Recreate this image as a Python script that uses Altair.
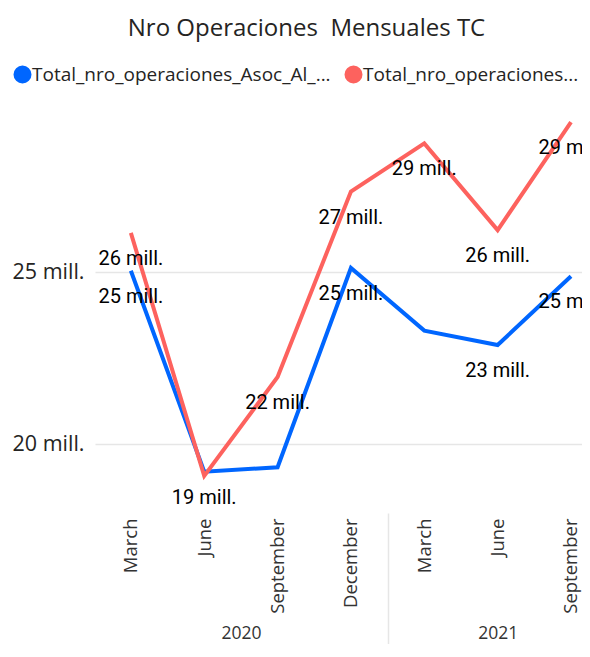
import json
import altair as alt
import pandas as pd

# ---------------- data ----------------
months = ["March", "June", "September", "December", "March", "June", "September"]
years = ["2020", "2020", "2020", "2020", "2021", "2021", "2021"]
series_names = ["Total_nro_operaciones_Asoc_Al_...", "Total_nro_operaciones..."]
blue_vals = [25.04, 19.20, 19.33, 25.12, 23.30, 22.88, 24.88]   # millions
red_vals = [26.14, 19.08, 21.95, 27.34, 28.74, 26.22, 29.36]    # millions
blue_show = [True, True, False, True, False, True, True]
red_show = [True, False, True, True, True, True, True]
colors = ["#0066FF", "#FD625E"]
title_text = "Nro Operaciones\u00a0 Mensuales TC"

rows = []
for name, vals, show in [(series_names[0], blue_vals, blue_show),
                         (series_names[1], red_vals, red_show)]:
    for i, (m, y, v, s) in enumerate(zip(months, years, vals, show)):
        rows.append({"idx": i, "month": m, "year": y, "series": name,
                     "value": v, "show": s, "label": f"{round(v)} mill."})
df = pd.DataFrame(rows)

# year groups: centre and boundaries derived from the month indices
year_list = list(dict.fromkeys(years))
year_centers = [sum(i for i, y in enumerate(years) if y == yr) /
                years.count(yr) for yr in year_list]
year_bounds = [min(i for i, y in enumerate(years) if y == yr) - 0.5 for yr in year_list]
year_df = pd.DataFrame({"year": year_list, "center": year_centers})

x_domain = [-0.489, 6.15]
FONT = "Open Sans"

month_expr = json.dumps(months) + "[datum.value]"
year_expr = " : ".join(
    f"datum.value == {c} ? '{y}'" for y, c in zip(year_list, year_centers)) + " : ''"
bound_test = "indexof(" + json.dumps(year_bounds) + ", datum.value) >= 0"

base = alt.Chart(df).encode(
    x=alt.X("idx:Q",
            scale=alt.Scale(domain=x_domain, nice=False, zero=False),
            axis=alt.Axis(values=list(range(len(months))), labelExpr=month_expr,
                          labelAngle=-90, labelFont=FONT, labelFontSize=18.5,
                          labelColor="#333333", labelPadding=5, ticks=False,
                          domain=False, grid=False, title=None)),
    y=alt.Y("value:Q",
            scale=alt.Scale(domain=[18, 30], nice=False, zero=False),
            axis=alt.Axis(values=[20, 25], labelExpr="datum.value + ' mill.'",
                          labelFont=FONT, labelFontSize=21.5, labelColor="#252423",
                          labelPadding=11, ticks=False, domain=False, grid=True,
                          gridColor="#E6E6E6", gridWidth=1.5, title=None)),
    color=alt.Color("series:N",
                    scale=alt.Scale(domain=series_names, range=colors),
                    legend=alt.Legend(orient="none", legendX=-82, legendY=-35,
                                      direction="horizontal", title=None,
                                      symbolType="circle", symbolSize=81,
                                      symbolStrokeWidth=9, labelFont=FONT,
                                      labelFontSize=19, labelColor="#252423",
                                      labelLimit=0, labelOffset=0,
                                      columnPadding=0)),
)

lines = base.mark_line(strokeWidth=4, clip=True)

labels = base.transform_filter("datum.show").mark_text(
    dy=26, baseline="middle", align="center", font="Roboto", fontSize=20,
    clip=True
).encode(text="label:N", color=alt.value("#000000"))

year_layer = alt.Chart(year_df).mark_point(opacity=0).encode(
    x=alt.X("center:Q",
            scale=alt.Scale(domain=x_domain, nice=False, zero=False),
            axis=alt.Axis(orient="bottom",
                          values=sorted(year_bounds + year_centers),
                          labelExpr=year_expr, labelAngle=0, labelFont=FONT,
                          labelFontSize=17.5, labelColor="#333333",
                          labelBaseline="middle",
                          tickSize=131, tickWidth=1.5,
                          tickColor={"condition": {"test": bound_test,
                                                   "value": "#E6E6E6"},
                                     "value": "transparent"},
                          labelPadding=-11, domain=False, grid=False,
                          title=None)),
)

chart = alt.layer(alt.layer(lines, labels), year_layer).resolve_scale(
    x="independent"
).properties(
    width=487, height=413,
    autosize=alt.AutoSizeParams(type="none"),
    padding={"left": 87, "top": 92, "right": 0, "bottom": 131},
    title=alt.TitleParams(text=title_text, font=FONT, fontSize=24,
                          fontWeight="normal", color="#252423",
                          anchor="middle", dx=-32, offset=24),
).configure_view(stroke=None)

chart.save("out.html", embed_options={"renderer": "svg", "actions": False})
